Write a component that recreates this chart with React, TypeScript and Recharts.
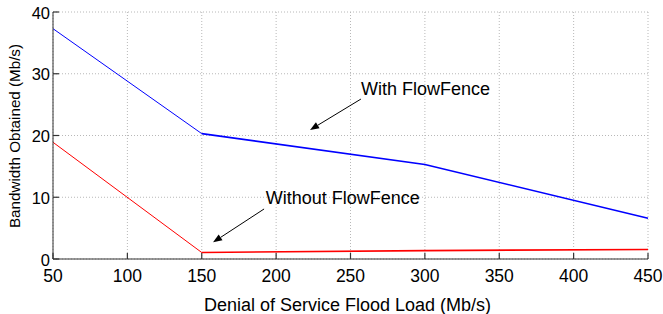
import React from 'react';
import { LineChart, Line, XAxis, YAxis, CartesianGrid, ReferenceLine } from 'recharts';

const loads = [50, 150, 300, 450];
const withFlowFence = [37.3, 20.3, 15.3, 6.6];
const withoutFlowFence = [18.9, 1.05, 1.36, 1.55];
const xTicks = [50, 100, 150, 200, 250, 300, 350, 400, 450];
const yTicks = [0, 10, 20, 30, 40];

// first segment is drawn thinner than the rest in the original figure
const data = loads.map((load, i) => ({
  load,
  withA: i <= 1 ? withFlowFence[i] : null,
  withB: i >= 1 ? withFlowFence[i] : null,
  withoutA: i <= 1 ? withoutFlowFence[i] : null,
  withoutB: i >= 1 ? withoutFlowFence[i] : null,
}));

const notes = [
  { text: 'With FlowFence', from: { x: 257, y: 25.9 }, to: { x: 222.8, y: 20.9 }, tx: 257, ty: 27.6 },
  { text: 'Without FlowFence', from: { x: 191.9, y: 8.1 }, to: { x: 157.6, y: 2.7 }, tx: 193, ty: 9.9 },
];

const font = '"Liberation Sans", Arial, Helvetica, sans-serif';
const axisColor = '#333';

const BottomTick = (props: any) => {
  const { x, y, payload } = props;
  return (
    <g>
      <line x1={x} y1={y} x2={x} y2={y - 6} stroke={axisColor} strokeWidth={1.2} />
      <text x={x} y={y + 23} textAnchor="middle" fontSize={17.5} fontFamily={font} fill="#000">
        {payload.value}
      </text>
    </g>
  );
};

const TopTick = (props: any) => {
  const { x, y } = props;
  return <line x1={x} y1={y} x2={x} y2={y + 6} stroke={axisColor} strokeWidth={1.2} />;
};

const LeftTick = (props: any) => {
  const { x, y, payload } = props;
  return (
    <g>
      <line x1={x} y1={y} x2={x + 6} y2={y} stroke={axisColor} strokeWidth={1.2} />
      <text x={x - 3} y={y + 6.5} textAnchor="end" fontSize={16.5} fontFamily={font} fill="#000">
        {payload.value}
      </text>
    </g>
  );
};

const RightTick = (props: any) => {
  const { x, y } = props;
  return <line x1={x} y1={y} x2={x - 6} y2={y} stroke={axisColor} strokeWidth={1.2} />;
};

const XLabel = (props: any) => {
  const vb = props.viewBox;
  return (
    <text x={vb.x + vb.width / 2 - 3} y={vb.y + 51.5} textAnchor="middle" fontSize={18} fontFamily={font} fill="#000">
      Denial of Service Flood Load (Mb/s)
    </text>
  );
};

const YLabel = (props: any) => {
  const vb = props.viewBox;
  const cx = 20;
  const cy = vb.y + vb.height / 2 + 0.5;
  return (
    <text x={cx} y={cy} transform={`rotate(-90, ${cx}, ${cy})`} textAnchor="middle" fontSize={15.2} fontFamily={font} fill="#000">
      Bandwidth Obtained (Mb/s)
    </text>
  );
};

const Arrow = (props: any) => {
  const { x1, y1, x2, y2 } = props;
  const a = Math.atan2(y2 - y1, x2 - x1);
  const len = 9;
  const w = 3.5;
  const bx = x2 - len * Math.cos(a);
  const by = y2 - len * Math.sin(a);
  const px = -Math.sin(a) * w;
  const py = Math.cos(a) * w;
  return (
    <g>
      <line x1={x1} y1={y1} x2={bx} y2={by} stroke="#000" strokeWidth={1} />
      <polygon points={`${x2},${y2} ${bx + px},${by + py} ${bx - px},${by - py}`} fill="#000" />
    </g>
  );
};

export default function App() {
  return (
    <div style={{ position: 'absolute', left: 0, top: 0, background: '#fff' }}>
      <LineChart width={663} height={314} data={data} margin={{ top: 12, right: 15, bottom: 0, left: 0 }}>
        <CartesianGrid stroke="#b8b8b8" strokeDasharray="1 2" />
        <XAxis
          dataKey="load"
          type="number"
          domain={[50, 450]}
          ticks={xTicks}
          tickSize={0}
          tickMargin={0}
          tick={<BottomTick />}
          tickLine={false}
          stroke={axisColor}
          height={55}
          interval={0}
          label={<XLabel />}
        />
        <XAxis
          xAxisId="top"
          orientation="top"
          dataKey="load"
          type="number"
          domain={[50, 450]}
          ticks={xTicks}
          tickSize={0}
          tickMargin={0}
          tick={<TopTick />}
          tickLine={false}
          stroke={axisColor}
          height={0}
          interval={0}
        />
        <YAxis
          type="number"
          domain={[0, 40]}
          ticks={yTicks}
          tickSize={0}
          tickMargin={0}
          tick={<LeftTick />}
          tickLine={false}
          stroke={axisColor}
          width={53}
          interval={0}
          label={<YLabel />}
        />
        <YAxis
          yAxisId="right"
          orientation="right"
          type="number"
          domain={[0, 40]}
          ticks={yTicks}
          tickSize={0}
          tickMargin={0}
          tick={<RightTick />}
          tickLine={false}
          stroke={axisColor}
          width={0}
          interval={0}
        />
        <Line dataKey="withA" stroke="#0000ff" strokeWidth={1} dot={false} isAnimationActive={false} />
        <Line dataKey="withB" stroke="#0000ff" strokeWidth={1.6} dot={false} isAnimationActive={false} />
        <Line dataKey="withoutA" stroke="#ff0000" strokeWidth={1} dot={false} isAnimationActive={false} />
        <Line dataKey="withoutB" stroke="#ff0000" strokeWidth={1.6} dot={false} isAnimationActive={false} />
        {notes.map((n) => (
          <ReferenceLine key={n.text} segment={[n.from, n.to]} shape={<Arrow />} ifOverflow="visible" />
        ))}
        {notes.map((n) => (
          <ReferenceLine
            key={n.text + '-label'}
            segment={[{ x: n.tx, y: n.ty }, { x: n.tx, y: n.ty }]}
            ifOverflow="visible"
            shape={(p: any) => (
              <text x={p.x1} y={p.y1 + 6.5} fontSize={18} fontFamily={font} fill="#000">
                {n.text}
              </text>
            )}
          />
        ))}
      </LineChart>
    </div>
  );
}
